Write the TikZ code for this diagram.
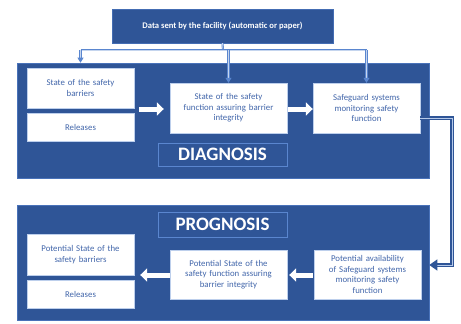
\documentclass[tikz,border=0pt]{standalone}
\usepackage{fontspec}
\setmainfont{Carlito}
\usetikzlibrary{arrows.meta,calc}
\definecolor{dblue}{HTML}{2F5597}
\definecolor{lblue}{HTML}{5A86CF}
\definecolor{tblue}{HTML}{4266AA}
\tikzset{
  frame/.style={fill=dblue,draw=lblue!60!dblue,line width=0.6pt,minimum width=412pt,minimum height=115pt,inner sep=0pt},
  wbox/.style={fill=white,draw=lblue!40,line width=0.4pt,text=tblue,font=\fontsize{8.8}{10.6}\selectfont,align=center,inner sep=1pt},
  lbl/.style={draw=lblue,line width=1pt,text=white,font=\fontsize{19}{20}\selectfont\bfseries,minimum width=129pt,inner sep=0pt},
  topbox/.style={fill=dblue,draw=lblue!50!dblue,text=white,font=\fontsize{8.6}{10}\selectfont\bfseries,minimum width=221pt,minimum height=34pt,inner sep=0pt},
  feed/.style={draw=lblue,line width=0.7pt,double=lblue!35,double distance=0.7pt},
  feedarr/.style={feed,-{Triangle[width=6pt,length=5pt,fill=lblue]}},
  warr/.style={white,line width=5pt,-{Triangle[width=13pt,length=7pt]}},
  link/.style={draw=dblue,line width=1.3pt,double=lblue!45,double distance=1pt,-{Triangle[width=11pt,length=8pt,fill=dblue]}}
}
\begin{document}
\begin{tikzpicture}[x=1pt,y=-1pt]
\useasboundingbox (0,0) rectangle (461,324);
% frames
\node[frame] (diag) at (223,120.5) {};
\node[frame] (prog) at (223,262.5) {};
% top box
\node[topbox] (top) at (222.5,26) {Data sent by the facility (automatic or paper)};
% diagnosis boxes
\node[wbox,minimum width=107pt,minimum height=40pt,text width=100pt] (sb) at (80.5,88) {State of the safety\\barriers};
\node[wbox,minimum width=107pt,minimum height=28pt,text width=100pt] (rel1) at (80.5,127) {Releases};
\node[wbox,minimum width=117pt,minimum height=50pt,text width=112pt] (sf) at (228.5,108) {State of the safety\\function assuring barrier\\integrity};
\node[wbox,minimum width=107pt,minimum height=50pt,text width=104pt] (sg) at (366.5,108) {Safeguard systems\\monitoring safety\\function};
\node[lbl,minimum height=23pt] (dl) at (222.5,154.5) {DIAGNOSIS};
% prognosis boxes
\node[lbl,minimum height=25pt] (pl) at (222.5,224.5) {PROGNOSIS};
\node[wbox,minimum width=107pt,minimum height=41pt,text width=104pt] (psb) at (80.5,254.5) {Potential State of the\\safety barriers};
\node[wbox,minimum width=107pt,minimum height=28pt,text width=100pt] (rel2) at (80.5,294) {Releases};
\node[wbox,minimum width=117pt,minimum height=49pt,text width=114pt] (psf) at (228.5,274.5) {Potential State of the\\safety function assuring\\barrier integrity};
\node[wbox,minimum width=107pt,minimum height=49pt,text width=105pt] (pav) at (367.5,274.5) {Potential availability\\of Safeguard systems\\monitoring safety\\function};
% feed lines
\coordinate (j) at ($(top.south)+(0.5,7)$);
\coordinate (jl) at (sb.north |- j);
\coordinate (jm) at (sf.north |- j);
\coordinate (jr) at (sg.north |- j);
\draw[feed] (top.south) -- (j);
\draw[feed] (jl) -- (jr);
\draw[feedarr] (jl) -- (sb.north |- diag.north);
\draw[feedarr] (jm) -- (sf.north);
\draw[feedarr] (jr) -- (sg.north);
% white arrows
\draw[warr] ($(sb.east |- sf.center)+(5,1)$) -- ($(sf.west)+(-6,1)$);
\draw[warr] ($(sg.west |- sf.center)+(-25,1)$) -- ($(sg.west)+(0,1)$);
\draw[warr] ($(pav.west)+(-1,0.5)$) -- ($(psf.east)+(2,0.5)$);
\draw[warr] ($(psf.west)+(0,0.5)$) -- ($(psb.east |- psf.center)+(6,0.5)$);
% link diagnosis -> prognosis
\coordinate (c1) at ($(sg.east)+(0,10)$);
\coordinate (c2) at (452,265);
\draw[link] (c1) -| (c2) -- (prog.east |- c2);
\end{tikzpicture}
\end{document}
